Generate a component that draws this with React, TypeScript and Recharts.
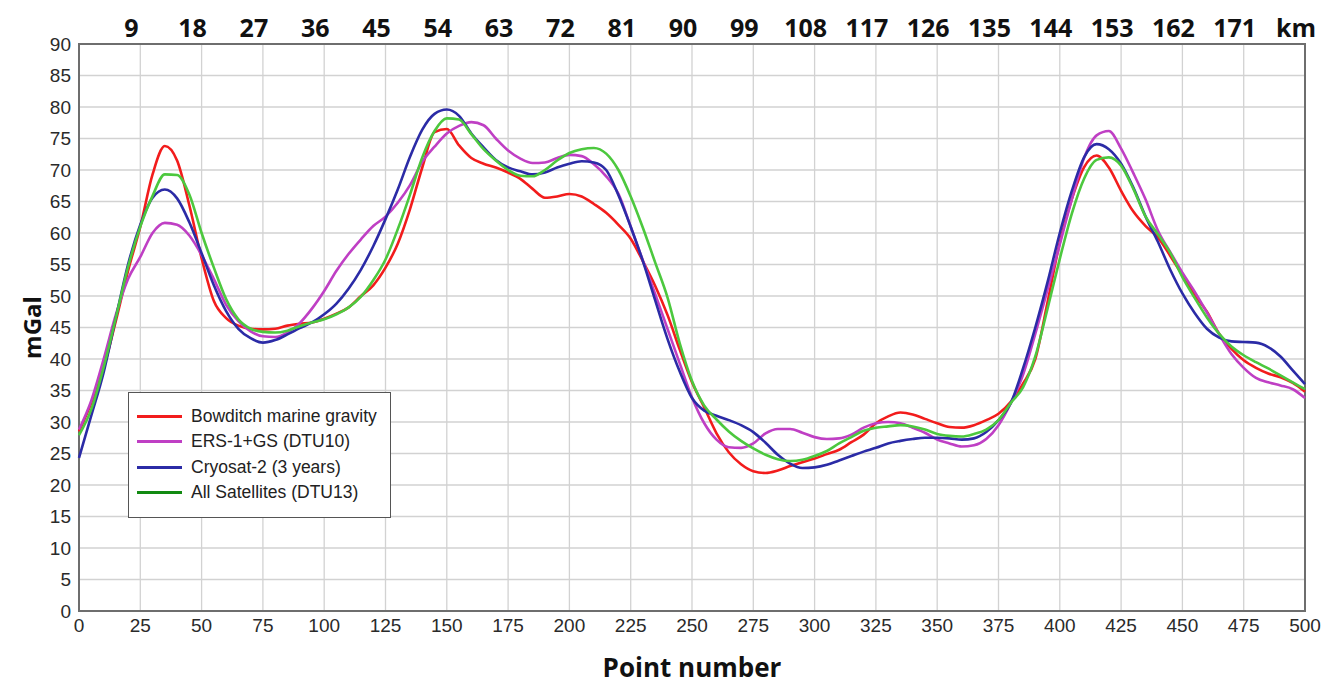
import React from 'react';
import { LineChart, Line, XAxis, YAxis, CartesianGrid, ReferenceArea, Legend } from 'recharts';

const points = Array.from({ length: 101 }, (_, i) => i * 5);

const bowditch = [28.5, 33, 38.5, 46, 54, 61, 69.3, 73.8, 71.5, 64.4, 56, 49.2, 46.5, 45.3, 44.8, 44.7, 44.8, 45.3, 45.6, 45.8, 46.4, 47.2, 48.2, 50, 51.7, 54.5, 58.3, 63.8, 70.4, 76, 76.5, 73.9, 71.9, 71, 70.4, 69.6, 68.6, 67, 65.6, 65.8, 66.2, 65.8, 64.6, 63.2, 61.3, 59.1, 55.5, 51.6, 47, 41.5, 36.3, 32.3, 28.2, 25.2, 23.3, 22.2, 21.9, 22.3, 23, 23.6, 24.2, 24.9, 25.6, 26.8, 28, 29.8, 30.9, 31.5, 31.2, 30.5, 29.8, 29.2, 29.1, 29.5, 30.3, 31.3, 33.2, 36.1, 40, 49, 58.5, 65.5, 70.5, 72.3, 70.4, 66.7, 63.4, 61.1, 59.3, 56.4, 53.3, 50.2, 47.5, 44, 41.6, 39.8, 38.6, 37.7, 37.1, 36.2, 34.8];

const ers1 = [28.8, 33.4, 39.9, 47, 52.7, 56.2, 60, 61.6, 61.3, 59.6, 56.5, 52.7, 48.6, 46, 44.4, 43.6, 43.5, 44.2, 45.7, 48, 50.8, 54, 56.7, 59, 61.1, 62.6, 64.8, 67.6, 71.3, 73.7, 75.8, 77, 77.6, 77.1, 75, 73.1, 71.8, 71.1, 71.2, 71.9, 72.4, 72.2, 70.9, 69, 66.2, 61, 55.6, 50.3, 44.8, 39.3, 33.9, 29.8, 27.2, 26, 25.9, 26.6, 28.2, 28.9, 28.9, 28.3, 27.6, 27.3, 27.4, 28, 29.1, 29.8, 30, 29.8, 29.1, 28.3, 27.2, 26.6, 26.1, 26.3, 27.3, 29.5, 33, 37.5, 44, 51, 58.2, 65.5, 72, 75.5, 76.2, 73.4, 69.5, 65.3, 60.4, 57, 53.7, 50.7, 47.4, 43.9, 40.8, 38.6, 37, 36.3, 35.8, 35.2, 33.8];

const cryosat = [24.3, 31, 37.8, 46.5, 55, 61.3, 65.6, 66.9, 65.5, 61.7, 56.8, 51.7, 47.6, 44.8, 43.3, 42.6, 43, 43.9, 44.9, 45.8, 47.1, 48.8, 51.2, 54.2, 57.9, 62.2, 66.9, 72.1, 76.4, 78.9, 79.6, 78.6, 75.8, 73.6, 71.6, 70.4, 69.8, 69.3, 69.6, 70.4, 71, 71.4, 71.2, 70, 66, 61, 55.5, 49.3, 43.2, 38, 33.8, 31.8, 31, 30.3, 29.5, 28.4, 26.7, 24.8, 23.4, 22.7, 22.8, 23.2, 23.9, 24.6, 25.3, 25.9, 26.6, 27, 27.3, 27.5, 27.5, 27.4, 27.2, 27.4, 28.4, 30.3, 33, 38.5, 45, 52.2, 60, 66.8, 72.1, 74.1, 73.3, 71, 67.2, 62.6, 58.6, 54.2, 50.4, 47.3, 44.8, 43.4, 42.8, 42.7, 42.6, 41.9, 40.4, 38.2, 36];

const dtu13 = [27.9, 32, 38.6, 46.5, 54.6, 61, 65.9, 69.3, 69.2, 66.1, 60, 54.5, 49.5, 46.3, 44.8, 44.3, 44.2, 44.5, 45.2, 45.8, 46.3, 47.1, 48.2, 49.9, 52.5, 55.8, 60.6, 66.1, 72, 76.2, 78.2, 78, 75.7, 73.3, 71.5, 70, 69.1, 69, 70, 71.5, 72.7, 73.3, 73.5, 72.6, 70, 65.8, 60.8, 55.3, 49.8, 42.5, 36.5, 32.6, 30.4, 28.5, 27, 25.8, 24.8, 24.1, 23.8, 24, 24.6, 25.4, 26.6, 27.6, 28.6, 29.1, 29.3, 29.5, 29.3, 28.8, 28.1, 27.8, 27.7, 28.1, 28.8, 30.3, 33, 35.5, 40.4, 48, 55.9, 63.2, 68.7, 71.6, 72, 70.7, 67, 62.6, 59.8, 56.9, 53, 49.7, 46.6, 44, 42, 40.6, 39.5, 38.5, 37.4, 36.3, 35.2];

const seriesKeys = ['bowditch', 'ers1', 'cryosat', 'dtu13'];
const seriesNames = ['Bowditch marine gravity', 'ERS-1+GS (DTU10)', 'Cryosat-2 (3 years)', 'All Satellites (DTU13)'];
const seriesColors = ['#f21c1c', '#bf3fc4', '#2b2ba6', '#4cc83e'];
const legendColors = ['#f21c1c', '#bf3fc4', '#2b2ba6', '#128a12'];

const xTicks = Array.from({ length: 21 }, (_, i) => i * 25);
const yTicks = Array.from({ length: 19 }, (_, i) => i * 5);
const kmTicks = xTicks.slice(1);
const kmLabels = ['9', '18', '27', '36', '45', '54', '63', '72', '81', '90', '99', '108', '117', '126', '135', '144', '153', '162', '171', 'km'];

const rows = points.map((p, i) => ({
  p,
  bowditch: bowditch[i],
  ers1: ers1[i],
  cryosat: cryosat[i],
  dtu13: dtu13[i],
}));

const tickStyle = { fontFamily: '"Liberation Sans", Arial, sans-serif', fontSize: 19, fill: '#2a2a2a' };

const KmTick = (props: any) => {
  const { x, payload } = props;
  const idx = kmTicks.indexOf(payload.value);
  return (
    <text
      x={x - 9}
      y={27}
      textAnchor="middle"
      dominantBaseline="central"
      fontFamily='"Open Sans", "Noto Sans", sans-serif'
      fontWeight={700}
      fontSize={25}
      fill="#111"
    >
      {idx >= 0 ? kmLabels[idx] : ''}
    </text>
  );
};

const LegendBox = () => (
  <div
    style={{
      width: 263,
      height: 126,
      border: '1.5px solid #555',
      background: '#fff',
      boxSizing: 'border-box',
      paddingTop: 11,
      paddingLeft: 8,
      textAlign: 'left',
    }}
  >
    {seriesNames.map((n, i) => (
      <div key={n} style={{ display: 'flex', alignItems: 'center', height: 25.3 }}>
        <div style={{ width: 45, height: 3, background: legendColors[i], marginRight: 9 }} />
        <span style={{ fontFamily: '"Liberation Sans", Arial, sans-serif', fontSize: 17.5, color: '#222', lineHeight: '19px', whiteSpace: 'nowrap' }}>{n}</span>
      </div>
    ))}
  </div>
);

export default function App() {
  return (
    <div style={{ position: 'absolute', left: 0, top: 0, width: 1334, height: 684, background: '#fff' }}>
      <LineChart width={1334} height={684} data={rows} margin={{ top: 0, right: 29, bottom: 0, left: 0 }}>
        <CartesianGrid stroke="#d2d2d2" strokeWidth={1.3} horizontalValues={yTicks} verticalValues={xTicks} />
        <XAxis
          dataKey="p"
          type="number"
          domain={[0, 500]}
          ticks={xTicks}
          interval={0}
          tickLine={false}
          axisLine={false}
          height={73}
          tick={tickStyle}
          label={{
            value: 'Point number',
            position: 'insideBottom',
            offset: 7,
            style: { fontFamily: '"Open Sans", "Noto Sans", sans-serif', fontWeight: 700, fontSize: 26, fill: '#111' },
          }}
        />
        <XAxis
          xAxisId="top"
          orientation="top"
          dataKey="p"
          type="number"
          domain={[0, 500]}
          ticks={kmTicks}
          interval={0}
          tickLine={false}
          axisLine={false}
          height={44}
          tick={<KmTick />}
        />
        <YAxis
          type="number"
          domain={[0, 90]}
          ticks={yTicks}
          interval={0}
          tickLine={false}
          axisLine={false}
          width={79}
          tick={tickStyle}
          label={{
            value: 'mGal',
            angle: -90,
            position: 'insideLeft',
            offset: 32,
            style: { textAnchor: 'middle', fontFamily: '"Open Sans", "Noto Sans", sans-serif', fontWeight: 700, fontSize: 24, fill: '#111' },
          }}
        />
        <ReferenceArea x1={0} x2={500} y1={0} y2={90} fill="none" stroke="#6e6e6e" strokeWidth={2} ifOverflow="visible" />
        {seriesKeys.map((k, i) => (
          <Line
            key={k}
            dataKey={k}
            name={seriesNames[i]}
            type="monotone"
            stroke={seriesColors[i]}
            strokeWidth={2.6}
            dot={false}
            activeDot={false}
            isAnimationActive={false}
          />
        ))}
        <Legend
          content={<LegendBox />}
          layout="horizontal"
          verticalAlign="middle"
          align="center"
          wrapperStyle={{ position: 'absolute', left: 128, top: 392, width: 263, height: 126 }}
        />
      </LineChart>
    </div>
  );
}
